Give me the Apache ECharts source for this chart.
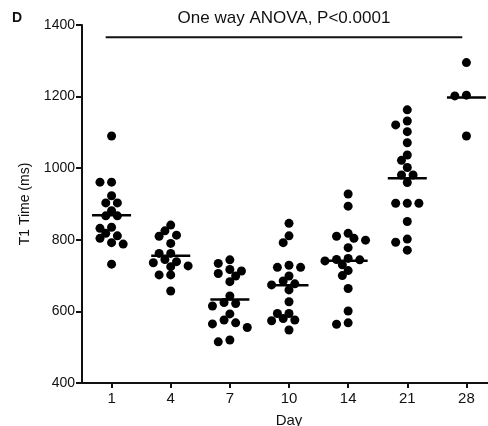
<!DOCTYPE html>
<html><head><meta charset="utf-8">
<script src="https://cdn.jsdelivr.net/npm/echarts@6/dist/echarts.min.js"></script>
<style>html,body{margin:0;padding:0;background:#fff}#c{width:488px;height:426px}</style>
</head><body><div id="c"></div>
<script>
// ---- data ----
const days = ['1', '4', '7', '10', '14', '21', '28'];
const day1  = [1090, 961, 961, 923, 903, 903, 881, 867, 867, 835, 832, 818, 811, 804, 792, 788, 732];
const day4  = [841, 825, 813, 810, 790, 762, 762, 745, 739, 736, 727, 725, 702, 702, 657];
const day7  = [744, 734, 717, 713, 706, 699, 683, 643, 625, 622, 615, 593, 576, 568, 565, 555, 520, 515];
const day10 = [846, 811, 792, 729, 723, 723, 699, 685, 677, 674, 660, 627, 594, 594, 580, 576, 574, 548];
const day14 = [928, 894, 818, 810, 804, 799, 778, 748, 745, 744, 741, 730, 714, 700, 664, 601, 568, 564];
const day21 = [1163, 1132, 1121, 1102, 1071, 1037, 1022, 1002, 981, 981, 960, 902, 902, 902, 851, 802, 793, 771];
const day28 = [1295, 1204, 1202, 1090];
const groups = [day1, day4, day7, day10, day14, day21, day28];
const yTicks = { min: 400, max: 1400, step: 200 };
const anovaLabel = 'One way ANOVA, P<0.0001';
const anovaLevel = 1366;
const panelLabel = 'D';
const xTitle = 'Day';
const yTitle = 'T1 Time (ms)';

const FONT = '"Liberation Sans", Arial, Helvetica, sans-serif';
const chart = echarts.init(document.getElementById('c'), null, { renderer: 'canvas' });

function meanOf(a) { return a.reduce((s, v) => s + v, 0) / a.length; }

function buildOption(points) {
  return {
    animation: false,
    backgroundColor: '#fff',
    grid: { left: 82, top: 25, width: 414, height: 358, containLabel: false, outerBoundsMode: 'none' },
    xAxis: [
      {
        type: 'category', data: days, boundaryGap: true, position: 'bottom',
        name: xTitle, nameLocation: 'middle', nameGap: 30,
        nameTextStyle: { fontFamily: FONT, fontSize: 15, color: '#111' },
        axisLine: { show: true, onZero: false, lineStyle: { color: '#111', width: 2 } },
        axisTick: { show: true, alignWithLabel: true, length: 5, lineStyle: { color: '#111', width: 2 } },
        axisLabel: { fontFamily: FONT, fontSize: 15, color: '#111', margin: 8 },
        splitLine: { show: false }
      },
      {
        type: 'value', min: -0.5, max: days.length - 0.5, show: false,
        axisLine: { onZero: false },
        splitLine: { show: false }
      }
    ],
    yAxis: {
      type: 'value', min: yTicks.min, max: yTicks.max, interval: yTicks.step,
      name: yTitle, nameLocation: 'middle', nameGap: 50,
      nameTextStyle: { fontFamily: FONT, fontSize: 14, color: '#111' },
      axisLine: { show: true, onZero: false, lineStyle: { color: '#111', width: 2 } },
      axisTick: { show: true, length: 6, lineStyle: { color: '#111', width: 2 } },
      axisLabel: { fontFamily: FONT, fontSize: 14, color: '#111', margin: 7, formatter: v => String(v) },
      splitLine: { show: false }
    },
    graphic: [
      { type: 'text', x: 12, y: 11, style: { text: panelLabel, fontFamily: FONT, fontSize: 14, fontWeight: 'bold', fill: '#111' } }
    ],
    series: [
      {
        type: 'scatter', xAxisIndex: 1, yAxisIndex: 0, data: points,
        symbol: 'circle', symbolSize: 9, itemStyle: { color: '#000', opacity: 1 }, silent: true, z: 3
      },
      {
        type: 'custom', xAxisIndex: 1, yAxisIndex: 0,
        data: groups.map((g, i) => [i, meanOf(g)]),
        renderItem: function (params, api) {
          const c = api.coord([api.value(0), api.value(1)]);
          const half = 19.5;
          return { type: 'line', shape: { x1: c[0] - half, y1: c[1], x2: c[0] + half, y2: c[1] },
                   style: { stroke: '#000', lineWidth: 2.5 } };
        },
        silent: true, z: 4
      },
      {
        type: 'line', xAxisIndex: 1, yAxisIndex: 0,
        data: [[-0.1, anovaLevel], [days.length - 1 - 0.07, anovaLevel]],
        symbol: 'none', lineStyle: { color: '#111', width: 2 }, silent: true
      }
    ]
  };
}

chart.setOption(buildOption(groups.flatMap((g, i) => g.map(v => [i, v]))));

// beeswarm layout in pixel space (Prism-like lattice)
const p0 = chart.convertToPixel({ xAxisIndex: 1, yAxisIndex: 0 }, [0, yTicks.min]);
const p1 = chart.convertToPixel({ xAxisIndex: 1, yAxisIndex: 0 }, [1, yTicks.max]);
const pxPerX = p1[0] - p0[0];
const pxPerY = (p0[1] - p1[1]) / (yTicks.max - yTicks.min);

function swarm(vals, i) {
  const sorted = vals.slice().sort((a, b) => b - a);
  const placed = [];
  const out = [];
  const s = 5.8, d = 7.6;
  for (const v of sorted) {
    const y = v * pxPerY;
    for (let k = 0; k < 30; k++) {
      const cands = k === 0 ? [0] : [-k, k];
      let found = null;
      for (const c of cands) {
        const x = c * s;
        if (placed.every(p => Math.hypot(p[0] - x, p[1] - y) >= d)) { found = x; break; }
      }
      if (found !== null) { placed.push([found, y]); out.push([i + found / pxPerX, v]); break; }
    }
  }
  return out;
}

const swarmPoints = groups.flatMap((g, i) => swarm(g, i));
const opt = buildOption(swarmPoints);
const a0 = chart.convertToPixel({ xAxisIndex: 1, yAxisIndex: 0 }, [-0.1, anovaLevel]);
const a1 = chart.convertToPixel({ xAxisIndex: 1, yAxisIndex: 0 }, [days.length - 1 - 0.07, anovaLevel]);
opt.graphic.push({
  type: 'text', x: (a0[0] + a1[0]) / 2, y: a0[1] - 19,
  style: { text: anovaLabel, fontFamily: FONT, fontSize: 17, fill: '#111', align: 'center', verticalAlign: 'middle', textAlign: 'center', textVerticalAlign: 'middle' }
});
chart.setOption(opt, true);
</script>
</body></html>
